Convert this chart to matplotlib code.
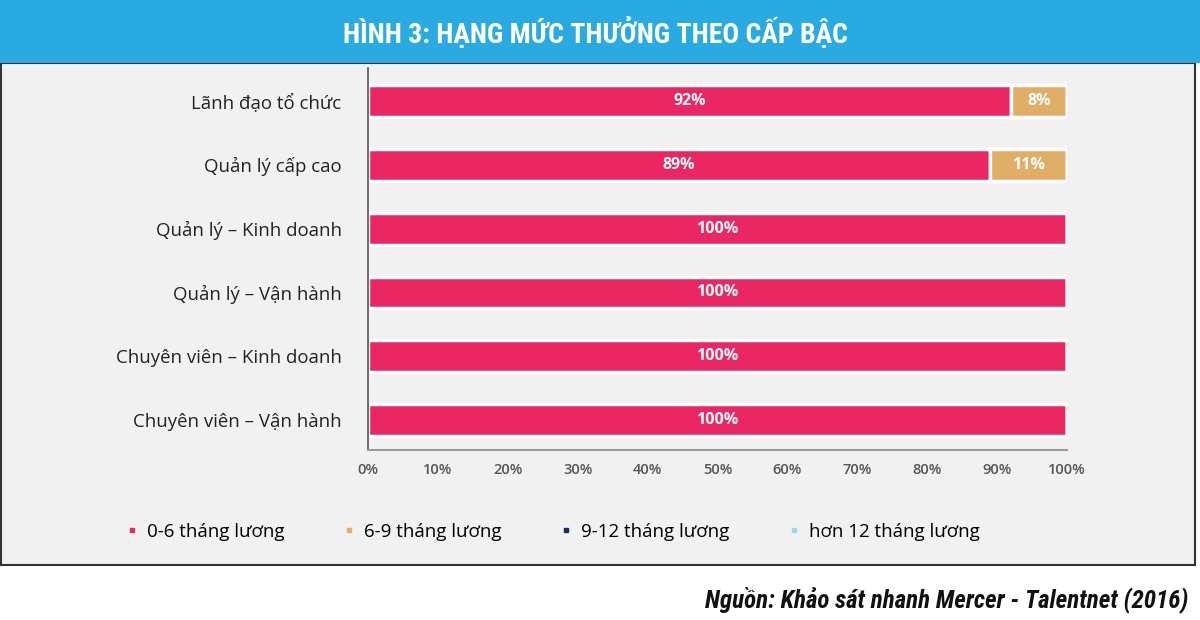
import matplotlib
matplotlib.use("Agg")
import matplotlib.pyplot as plt
from matplotlib.patches import Rectangle
from matplotlib.lines import Line2D
import numpy as np

categories = ["Lãnh đạo tổ chức", "Quản lý cấp cao", "Quản lý – Kinh doanh",
              "Quản lý – Vận hành", "Chuyên viên – Kinh doanh",
              "Chuyên viên – Vận hành"]
series_names = ["0-6 tháng lương", "6-9 tháng lương", "9-12 tháng lương",
                "hơn 12 tháng lương"]
v_0_6 = [92, 89, 100, 100, 100, 100]
v_6_9 = [8, 11, 0, 0, 0, 0]
v_9_12 = [0, 0, 0, 0, 0, 0]
v_12p = [0, 0, 0, 0, 0, 0]
series_values = [v_0_6, v_6_9, v_9_12, v_12p]
colors = ["#EA2663", "#E0AE66", "#1F2A5C", "#9ED8EC"]
xticks = [0, 10, 20, 30, 40, 50, 60, 70, 80, 90, 100]

title = "HÌNH 3: HẠNG MỨC THƯỞNG THEO CẤP BẬC"
source = "Nguồn: Khảo sát nhanh Mercer - Talentnet (2016)"

NARROW = ["Roboto Condensed", "Open Sans Condensed", "Liberation Sans Narrow",
          "DejaVu Sans"]

W, H = 1200, 620
fig = plt.figure(figsize=(W / 100, H / 100), dpi=100)
fig.patch.set_facecolor("white")

# panel background + border, blue header
fig.patches.append(Rectangle((1 / W, 1 - 565 / H), 1194 / W, 502 / H,
                             transform=fig.transFigure, facecolor="#F1F1F1",
                             edgecolor="#333333", linewidth=1.5, zorder=0))
fig.patches.append(Rectangle((0, 1 - 63 / H), 1, 63 / H,
                             transform=fig.transFigure, facecolor="#29ABE2",
                             edgecolor="none", zorder=1))
fig.text(595 / W, 1 - 33 / H, title, ha="center", va="center", color="white",
         fontsize=20, fontweight="bold", fontstretch="condensed", family=NARROW)

ax = fig.add_axes([368 / W, 1 - 450 / H, 699 / W, 382 / H])
ax.set_zorder(3)
ax.set_facecolor("none")
y = np.arange(len(categories))
left = np.zeros(len(categories))
for name, vals, c in zip(series_names, series_values, colors):
    vals = np.array(vals, dtype=float)
    bars = ax.barh(y, vals, left=left, height=0.5, color=c, edgecolor="white",
                   linewidth=2.5, label=name)
    for b, v in zip(bars, vals):
        if v > 0:
            ax.text(b.get_x() + b.get_width() / 2, b.get_y() + b.get_height() / 2,
                    "%d%%" % v, ha="center", va="center", color="white",
                    fontsize=11.5, fontweight="bold", family="Open Sans")
    left += vals

ax.set_xlim(0, 100)
ax.set_ylim(5.47, -0.52)
ax.set_yticks(y)
ax.set_yticklabels(categories, fontsize=13.4, family="Open Sans", color="#222222")
ax.set_xticks(xticks)
ax.set_xticklabels(["%d%%" % t for t in xticks], fontsize=10.5, family="Open Sans",
                   fontweight="semibold", color="#555555")
ax.tick_params(axis="both", length=0)
ax.tick_params(axis="y", pad=19)
ax.tick_params(axis="x", pad=9)
for s in ["top", "right"]:
    ax.spines[s].set_visible(False)
ax.spines["left"].set_color("#555555")
ax.spines["bottom"].set_color("#999999")
ax.spines["left"].set_linewidth(1.2)
ax.spines["bottom"].set_linewidth(1.5)

handles = [Line2D([], [], marker="s", linestyle="none", markersize=3.5,
                  color=c) for c in colors]
leg = fig.legend(handles, series_names, loc="center left",
                 bbox_to_anchor=(113 / W, 1 - 532 / H), ncol=4, frameon=False,
                 prop={"family": "Open Sans", "size": 13.5}, handletextpad=0.3,
                 columnspacing=2.95, handlelength=1.0, borderpad=0)
leg.set_zorder(3)

fig.text(1188 / W, 1 - 600 / H, source, ha="right", va="center", color="#111111",
         fontsize=18, fontweight="bold", fontstyle="italic",
         fontstretch="condensed", family=NARROW)

fig.savefig("out.png", dpi=100)
